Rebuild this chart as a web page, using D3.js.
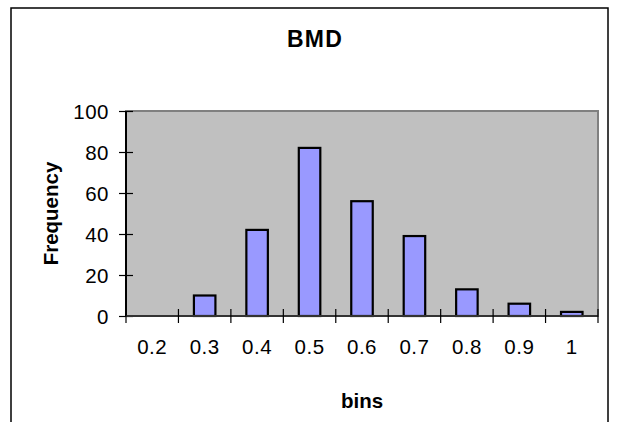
<!DOCTYPE html>
<html><head><meta charset="utf-8">
<script src="https://cdn.jsdelivr.net/npm/d3@7"></script>
<style>html,body{margin:0;padding:0;background:#fff;overflow:hidden}</style>
</head><body>
<script>
const categories = ["0.2","0.3","0.4","0.5","0.6","0.7","0.8","0.9","1"];
const frequency = [0,10,42,82,56,39,13,6,2];
const yTicks = [0,20,40,60,80,100];
const title = "BMD";
const xTitle = "bins";
const yTitle = "Frequency";

const W = 619, H = 422;
const m = {left:126, right:598, top:111, bottom:316};
const svg = d3.select("body").append("svg").attr("width",W).attr("height",H);
const font = "Liberation Sans, Arial, Helvetica, sans-serif";

// outer frame
svg.append("rect").attr("x",11).attr("y",8).attr("width",597).attr("height",430)
  .attr("fill","#fff").attr("stroke","#000").attr("stroke-width",1.5);

const x = d3.scaleBand().domain(categories).range([m.left,m.right]).paddingInner(0).paddingOuter(0);
const y = d3.scaleLinear().domain([0,100]).range([m.bottom,m.top]);

// plot area
svg.append("rect").attr("x",m.left).attr("y",m.top).attr("width",m.right-m.left).attr("height",m.bottom-m.top)
  .attr("fill","#C0C0C0").attr("stroke","#808080").attr("stroke-width",2);

// bars
const bw = x.bandwidth()*0.41;
svg.append("g").selectAll("rect").data(frequency).join("rect")
  .attr("x",(d,i)=>x(categories[i])+x.bandwidth()/2-bw/2)
  .attr("y",d=>y(d))
  .attr("width",bw)
  .attr("height",d=>m.bottom-y(d))
  .attr("fill","#9999FF").attr("stroke","#000").attr("stroke-width",2.2);

// y axis
const yAxis = d3.axisLeft(y).tickValues(yTicks).tickSize(7).tickPadding(10);
const gy = svg.append("g").attr("transform",`translate(${m.left},0)`).call(yAxis);
gy.select(".domain").attr("stroke","#000").attr("stroke-width",2).attr("d",`M0,${m.top}V${m.bottom}`);
gy.selectAll(".tick line").attr("x1",-7).attr("x2",7).attr("stroke","#000").attr("stroke-width",1.2);
gy.selectAll(".tick text").attr("font-family",font).attr("font-size",20.5).attr("fill","#000").attr("letter-spacing",0.5).attr("dy","0.35em");

// x axis
const xAxis = d3.axisBottom(x).tickSize(0).tickPadding(23);
const gx = svg.append("g").attr("transform",`translate(0,${m.bottom})`).call(xAxis);
gx.select(".domain").attr("stroke","#333").attr("stroke-width",2).attr("d",`M${m.left},0H${m.right}`);
gx.selectAll(".tick text").attr("font-family",font).attr("font-size",20.5).attr("fill","#000").attr("letter-spacing",0.5);
// boundary tick marks between categories
const edges = categories.map(c=>x(c)).concat([m.right]);
gx.append("g").selectAll("line").data(edges).join("line")
  .attr("x1",d=>d).attr("x2",d=>d).attr("y1",-7).attr("y2",7)
  .attr("stroke","#000").attr("stroke-width",1.2);

// titles
svg.append("text").attr("x",315).attr("y",47).attr("text-anchor","middle")
  .attr("font-family",font).attr("font-weight","bold").attr("font-size",23).attr("letter-spacing",1.2)
  .text(title);
svg.append("text").attr("x",(m.left+m.right)/2).attr("y",408).attr("text-anchor","middle")
  .attr("font-family",font).attr("font-weight","bold").attr("font-size",20.5)
  .text(xTitle);
svg.append("text").attr("transform",`translate(58,${(m.top+m.bottom)/2}) rotate(-90)`).attr("text-anchor","middle")
  .attr("font-family",font).attr("font-weight","bold").attr("font-size",20.5)
  .text(yTitle);
</script>
</body></html>
